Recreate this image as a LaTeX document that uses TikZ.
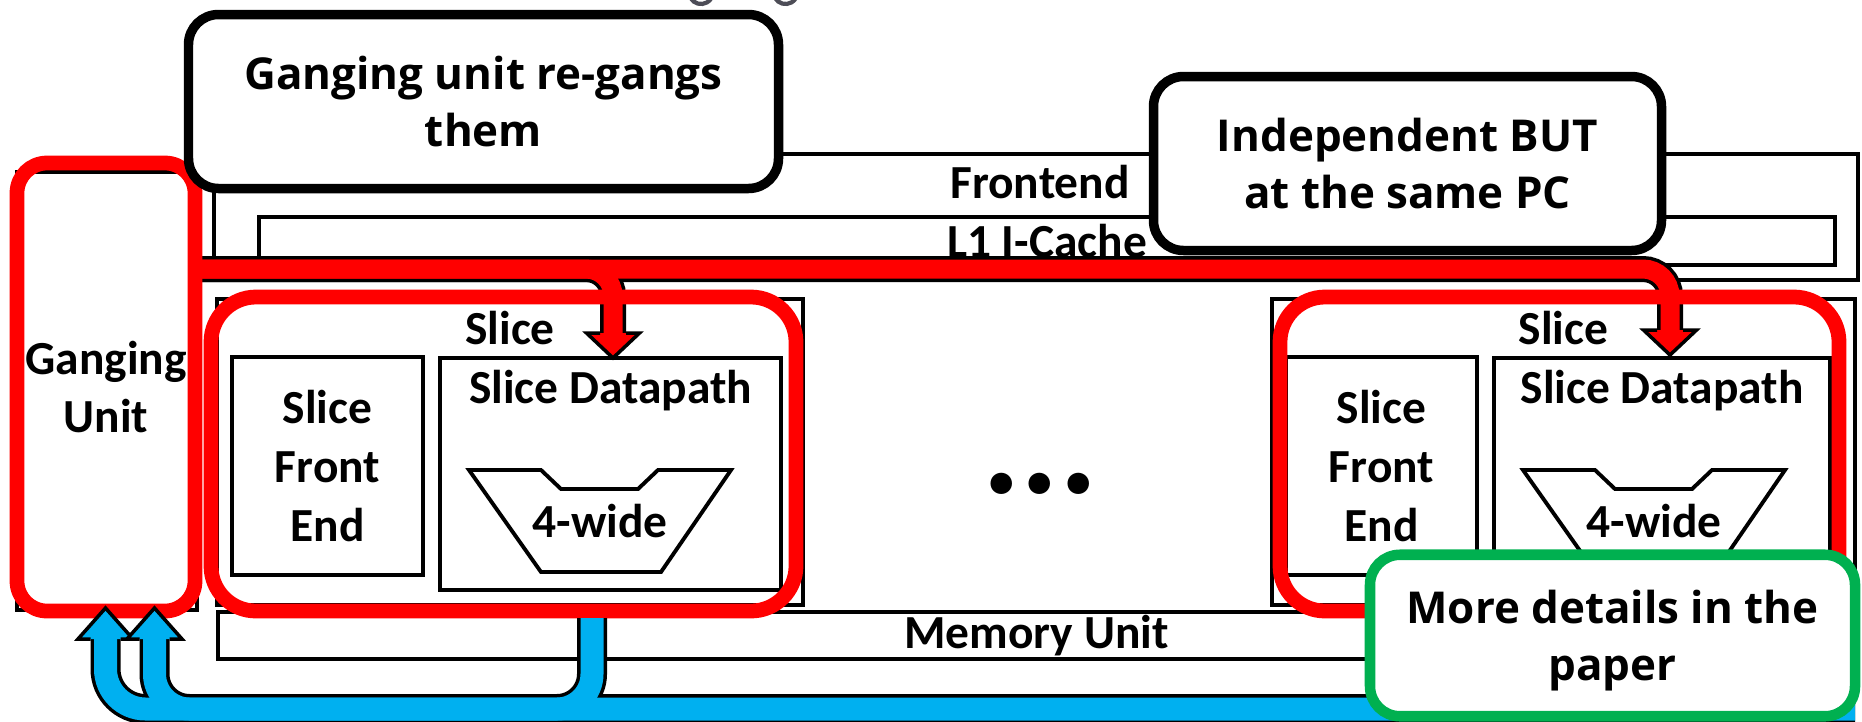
\documentclass[tikz,border=0pt]{standalone}
\usepackage{fontspec}
\setmainfont{Carlito}
\newfontfamily\notefont{Open Sans}
\usetikzlibrary{calc}
\definecolor{gangred}{HTML}{FF0000}
\definecolor{retblue}{HTML}{00B0F0}
\definecolor{notegreen}{HTML}{00B050}
\definecolor{titlegray}{HTML}{4D4D57}

\tikzset{
  unit/.style={draw, line width=1pt, inner sep=0pt, outer sep=0pt, align=center,
    font=\fontsize{13.5}{16.7}\selectfont\bfseries},
  txt/.style={inner sep=0pt, align=center, font=\fontsize{13.5}{16.7}\selectfont\bfseries},
  ring/.style={draw=gangred, line width=4.2pt, rounded corners=#1, inner sep=0pt, outer sep=0pt},
  ring/.default=0.45cm,
  callout/.style={draw, line width=2.7pt, fill=white, rounded corners=0.3cm, inner sep=0pt,
    align=center, font=\notefont\fontsize{12.5}{16.2}\selectfont\bfseries},
  alu/.style={draw, line width=1.1pt, line join=miter},
  headline/.style={draw=black, line width=1pt, line join=miter},
}

\begin{document}
\begin{tikzpicture}
  \useasboundingbox (0,0) rectangle (18.62,-7.21);
  % cut-off slide title
  \draw[titlegray, line width=1.2pt] (6.906,0.02) arc[start angle=210, end angle=330, radius=0.12];
  \draw[titlegray, line width=1.2pt] (7.751,0.02) arc[start angle=210, end angle=330, radius=0.12];

  % core outline
  \node[unit, minimum width=16.44cm, minimum height=1.26cm] (fe) at (10.36,-2.17) {};
  \node[txt, anchor=base] (fetxt) at ($(fe.north)+(0.04,-0.44)$) {Frontend};
  \node[unit, minimum width=15.76cm, minimum height=0.48cm] (ic) at (10.47,-2.41) {L1 I-Cache};
  \node[unit, minimum width=16.37cm, minimum height=0.47cm] (mem) at (10.365,-6.355) {Memory Unit};
  \node[unit, minimum width=1.80cm, minimum height=4.38cm] (gubox) at (1.07,-3.91) {};

  % slices
  \node[unit, minimum width=5.86cm, minimum height=3.06cm] (slL) at (5.10,-4.52) {};
  \node[unit, minimum width=5.83cm, minimum height=3.06cm] (slR) at (15.635,-4.52) {};
  \node[unit, minimum width=1.91cm, minimum height=2.18cm] (feL) at (3.275,-4.66) {Slice\\Front\\End};
  \node[unit, minimum width=1.91cm, minimum height=2.18cm] (feR) at (13.815,-4.66) {Slice\\Front\\End};
  \node[unit, minimum width=3.41cm, minimum height=2.32cm] (dpL) at (6.105,-4.74) {};
  \node[unit, minimum width=3.36cm, minimum height=2.32cm] (dpR) at (16.62,-4.74) {};
  \foreach \s in {L,R} {
    \node[txt, anchor=base] (slice\s) at ($(sl\s.north)+(0,-0.45)$) {Slice};
    \node[txt, anchor=base] (dptxt\s) at ($(dp\s.north)+(0,-0.45)$) {Slice Datapath};
    \draw[alu, shift={(dp\s.west)}] (0.29,0.04) -- (1.01,0.04) -- (1.21,-0.15) -- (1.98,-0.15)
      -- (2.18,0.04) -- (2.91,0.04) -- (2.21,-0.98) -- (1.01,-0.98) -- cycle;
    \node[txt, anchor=base] (wide\s) at ($(dp\s.west)+(1.60,-0.63)$) {4-wide};
  }
  \node[inner sep=0pt, anchor=base, font=\fontsize{41}{41}\selectfont\bfseries] (dots) at (10.40,-4.93) {...};

  % gang signal to the slices
  \coordinate (bus) at (0,-2.69);
  \coordinate (tipL) at ($(dpL.north)+(0.025,0)$);
  \coordinate (tipR) at ($(dpR.north)+(0.08,0.03)$);
  \foreach \w/\c in {0.26cm/black, 0.19cm/gangred} {
    \draw[line width=\w, \c, rounded corners=0.27cm] (1.95,0 |- bus) -- (tipR |- bus) -- ($(tipR)+(0,0.25)$);
    \draw[line width=\w, \c, rounded corners=0.27cm] (1.95,0 |- bus) -- (tipL |- bus) -- ($(tipL)+(0,0.25)$);
  }
  \foreach \t in {tipL, tipR}
    \filldraw[fill=gangred, headline] ($(\t)+(-0.13,0.25)$) -- ++(-0.135,0) -- (\t)
      -- ($(\t)+(0.265,0.25)$) -- ++(-0.135,0);

  % ganged groups
  \node[ring=0.3cm, txt, minimum width=1.78cm, minimum height=4.48cm] (gu) at (1.06,-3.87) {Ganging\\Unit};
  \node[ring, minimum width=5.85cm, minimum height=3.14cm] (ringL) at (5.035,-4.54) {};
  \node[ring, minimum width=5.59cm, minimum height=3.14cm] (ringR) at (15.595,-4.54) {};

  % feedback to the ganging unit
  \coordinate (ret) at (0,-7.09);
  \coordinate (tipA) at (1.055,-6.08);
  \coordinate (tipB) at (1.545,-6.08);
  \coordinate (tap) at ($(ringL.south)+(0.885,-0.07)$);
  \foreach \w/\c in {0.30cm/black, 0.23cm/retblue} {
    \draw[line width=\w, \c, rounded corners=0.35cm] (tap) -- (tap |- ret) -- (tipB |- ret) -- ($(tipB)+(0,-0.31)$);
    \draw[line width=\w, \c, rounded corners=0.4cm] (mem.east |- ret) -- (tipA |- ret) -- ($(tipA)+(0,-0.31)$);
  }
  \foreach \t in {tipA, tipB}
    \filldraw[fill=retblue, headline] ($(\t)+(-0.15,-0.31)$) -- ++(-0.125,0) -- (\t)
      -- ($(\t)+(0.275,-0.31)$) -- ++(-0.125,0);

  % callouts
  \node[callout, minimum width=5.90cm, minimum height=1.74cm] (regang) at (4.835,-1.015) {Ganging unit re-gangs\\them};
  \node[callout, minimum width=5.08cm, minimum height=1.74cm] (indep) at (14.075,-1.635) {Independent BUT\\at the same PC};
  \node[callout, draw=notegreen, line width=3pt, text depth=0pt, minimum width=4.85cm, minimum height=1.615cm] (note) at (16.125,-6.355) {More details in the\\paper};
\end{tikzpicture}
\end{document}
